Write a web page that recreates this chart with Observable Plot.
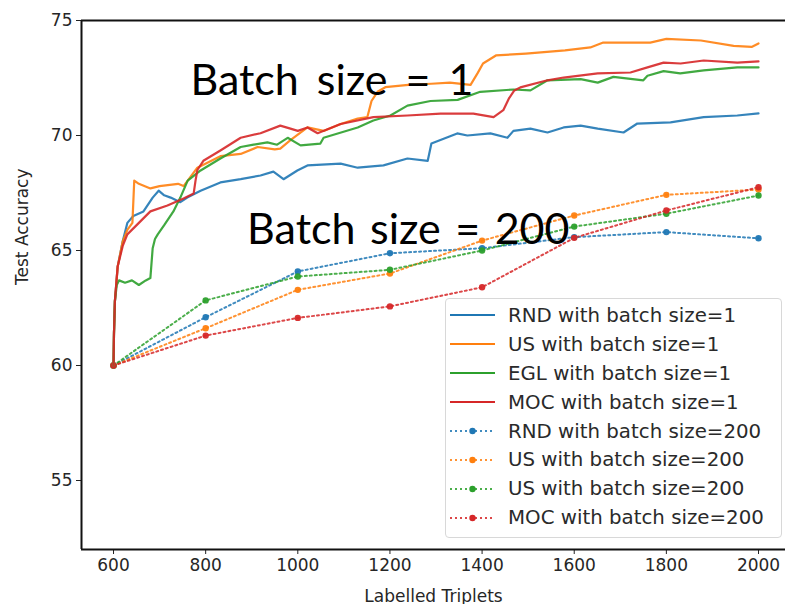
<!DOCTYPE html>
<html>
<head>
<meta charset="utf-8">
<script src="https://cdn.jsdelivr.net/npm/d3@7"></script>
<script src="https://cdn.jsdelivr.net/npm/@observablehq/plot@0.6"></script>
<style>
  html, body { margin: 0; padding: 0; background: #fff; overflow: hidden; }
  #wrap { position: relative; width: 785px; height: 604px; }
  #legend { position: absolute; left: 445px; top: 298px; width: 337px; height: 240px;
    box-sizing: border-box; border: 1px solid #d8d8d8; border-radius: 4px; background: rgba(255,255,255,0.85);
    font-family: "DejaVu Sans", sans-serif; font-size: 19.8px; color: #2a2a2a; padding-top: 2px; }
  .row { display: flex; align-items: center; height: 28.9px; white-space: nowrap; }
  .row svg { margin-left: 4px; margin-right: 13px; flex: none; }
</style>
</head>
<body>
<div id="wrap"><div id="legend"></div></div>
<script>
// ---- data ----
const colors = ["#1f77b4", "#ff7f0e", "#2ca02c", "#d62728"];
const xTicks = [600, 800, 1000, 1200, 1400, 1600, 1800, 2000];
const yTicks = [55, 60, 65, 70, 75];

// batch size = 1 (x, accuracy)
const rnd1 = [[600,60],[601,61.4],[603,62.8],[609,64.3],[620,65.4],[630,66.2],[643,66.5],[665,66.7],[685,67.3],[698,67.6],[710,67.4],[724,67.3],[745,67.1],[760,67.3],[789,67.6],[832,67.96],[876,68.1],[919,68.26],[947,68.43],[969,68.1],[999,68.48],[1021,68.7],[1093,68.78],[1130,68.6],[1186,68.7],[1238,69.0],[1282,68.9],[1290,69.65],[1346,70.09],[1368,70.0],[1418,70.09],[1455,69.9],[1468,70.2],[1505,70.3],[1542,70.13],[1577,70.35],[1614,70.43],[1651,70.3],[1707,70.13],[1737,70.52],[1809,70.57],[1881,70.8],[1954,70.87],[2000,70.96]];
const us1 = [[600,60],[601,61.4],[603,62.8],[609,64.3],[620,65.4],[630,65.9],[641,66.2],[645,68.04],[655,67.9],[680,67.7],[700,67.8],[740,67.9],[752,67.8],[761,68.04],[782,68.6],[832,69.1],[876,69.2],[913,69.5],[950,69.4],[962,69.43],[984,69.8],[1021,70.35],[1056,70.2],[1093,70.5],[1130,70.74],[1151,70.8],[1160,71.5],[1173,71.9],[1190,72.1],[1240,72.2],[1290,72.25],[1330,72.3],[1375,72.2],[1390,72.7],[1402,73.13],[1430,73.48],[1495,73.56],[1580,73.7],[1635,73.83],[1663,74.04],[1765,74.04],[1800,74.2],[1875,74.13],[1946,73.9],[1985,73.85],[2000,74.0]];
const egl1 = [[600,60],[601,61.4],[603,62.8],[607,63.5],[612,63.7],[625,63.6],[640,63.7],[655,63.5],[670,63.7],[680,63.8],[685,65.1],[690,65.5],[696,65.7],[710,66.1],[730,66.7],[745,67.3],[761,68.04],[789,68.48],[832,69.0],[876,69.5],[904,69.6],[934,69.7],[955,69.6],[978,69.9],[1006,69.57],[1049,69.65],[1056,69.9],[1130,70.35],[1164,70.65],[1201,70.87],[1238,71.3],[1288,71.5],[1347,71.55],[1396,71.9],[1468,72.0],[1505,71.96],[1542,72.4],[1614,72.45],[1651,72.3],[1685,72.55],[1750,72.4],[1759,72.6],[1794,72.8],[1830,72.7],[1881,72.83],[1954,72.96],[2000,72.96]];
const moc1 = [[600,60],[601,61.4],[603,62.8],[609,64.3],[620,65.2],[630,65.7],[680,66.7],[717,66.96],[752,67.26],[774,67.48],[778,68.04],[782,68.5],[795,68.9],[832,69.35],[876,69.9],[919,70.1],[962,70.43],[984,70.3],[1000,70.2],[1021,70.35],[1043,70.1],[1093,70.5],[1164,70.8],[1238,70.87],[1310,70.95],[1381,70.95],[1425,70.8],[1446,71.1],[1458,71.6],[1470,71.96],[1483,72.09],[1542,72.4],[1577,72.52],[1651,72.7],[1722,72.74],[1759,72.96],[1794,73.17],[1831,73.13],[1881,73.26],[1954,73.17],[2000,73.22]];

// batch size = 200
const x200 = [600, 800, 1000, 1200, 1400, 1600, 1800, 2000];
const rnd200 = [60, 62.1, 64.09, 64.88, 65.1, 65.58, 65.8, 65.53];
const us200 = [60, 61.62, 63.29, 64.0, 65.43, 66.52, 67.42, 67.65];
const egl200 = [60, 62.83, 63.87, 64.16, 65.0, 66.04, 66.6, 67.39];
const moc200 = [60, 61.3, 62.07, 62.57, 63.4, 65.55, 66.74, 67.75];

const labels = ["RND with batch size=1","US with batch size=1","EGL with batch size=1","MOC with batch size=1",
  "RND with batch size=200","US with batch size=200","US with batch size=200","MOC with batch size=200"];

// ---- tables ----
const solid = [rnd1, us1, egl1, moc1].flatMap((s, i) => s.map(([x, y]) => ({x, y, k: i})));
const dotted = [rnd200, us200, egl200, moc200].flatMap((s, i) => s.map((y, j) => ({x: x200[j], y, k: i})));

const xDom = [530.5, 2058.6];
const chart = Plot.plot({
  width: 785, height: 604,
  marginLeft: 81, marginRight: 0, marginTop: 20, marginBottom: 55,
  style: {fontFamily: "DejaVu Sans, sans-serif", fontSize: "17px", color: "#262626", background: "transparent"},
  x: {domain: xDom},
  y: {domain: [52, 75]},
  marks: [
    Plot.axisX({ticks: xTicks, tickFormat: d => String(d), tickSize: 5, tickPadding: 4, label: null, fontSize: 17, stroke: "#222"}),
    Plot.axisY({ticks: yTicks, tickFormat: d => String(d), tickSize: 5, tickPadding: 4, label: null, fontSize: 17, stroke: "#222"}),
    Plot.lineY(dotted, {x: "x", y: "y", z: "k", stroke: d => colors[d.k], strokeWidth: 2, strokeDasharray: "2,3", strokeOpacity: 0.85}),
    Plot.dot(dotted, {x: "x", y: "y", fill: d => colors[d.k], r: 3.2, fillOpacity: 0.95}),
    Plot.lineY(solid, {x: "x", y: "y", z: "k", stroke: d => colors[d.k], strokeWidth: 2.2, strokeOpacity: 0.9}),
    Plot.text(["Batch size = 1"], {x: 767, y: 72.35, text: d => d, textAnchor: "start", fontSize: 43, fontFamily: "Lato", fill: "#000"}),
    Plot.text(["Batch size = 200"], {x: 890, y: 65.9, text: d => d, textAnchor: "start", fontSize: 43, fontFamily: "Lato", fill: "#000"}),
    Plot.ruleX([xDom[0]], {stroke: "#111", strokeWidth: 2}),
    Plot.ruleY([75, 52], {stroke: "#111", strokeWidth: 2}),
    Plot.text(["Test Accuracy"], {frameAnchor: "left", dx: -59, rotate: -90, fontSize: 17, fill: "#262626"}),
    Plot.text(["Labelled Triplets"], {frameAnchor: "bottom", dy: 52, fontSize: 17, fill: "#262626"})
  ]
});
document.getElementById("wrap").prepend(chart);
d3.select(chart).selectAll("text")
  .filter(function () { return this.textContent === "Batch size = 1"; })
  .attr("word-spacing", 7);
d3.select(chart).selectAll("text")
  .filter(function () { return this.textContent === "Batch size = 200"; })
  .attr("word-spacing", 3.5);

// legend
const leg = document.getElementById("legend");
labels.forEach((lab, i) => {
  const c = colors[i % 4];
  const row = document.createElement("div");
  row.className = "row";
  const sample = i < 4
    ? `<line x1="0" x2="45" y1="8" y2="8" stroke="${c}" stroke-width="2.2"/>`
    : `<line x1="0" x2="45" y1="8" y2="8" stroke="${c}" stroke-width="2" stroke-dasharray="2,3" stroke-opacity="0.85"/><circle cx="22.5" cy="8" r="3.2" fill="${c}"/>`;
  row.innerHTML = `<svg width="45" height="16">${sample}</svg><span>${lab}</span>`;
  leg.appendChild(row);
});
</script>
</body>
</html>
